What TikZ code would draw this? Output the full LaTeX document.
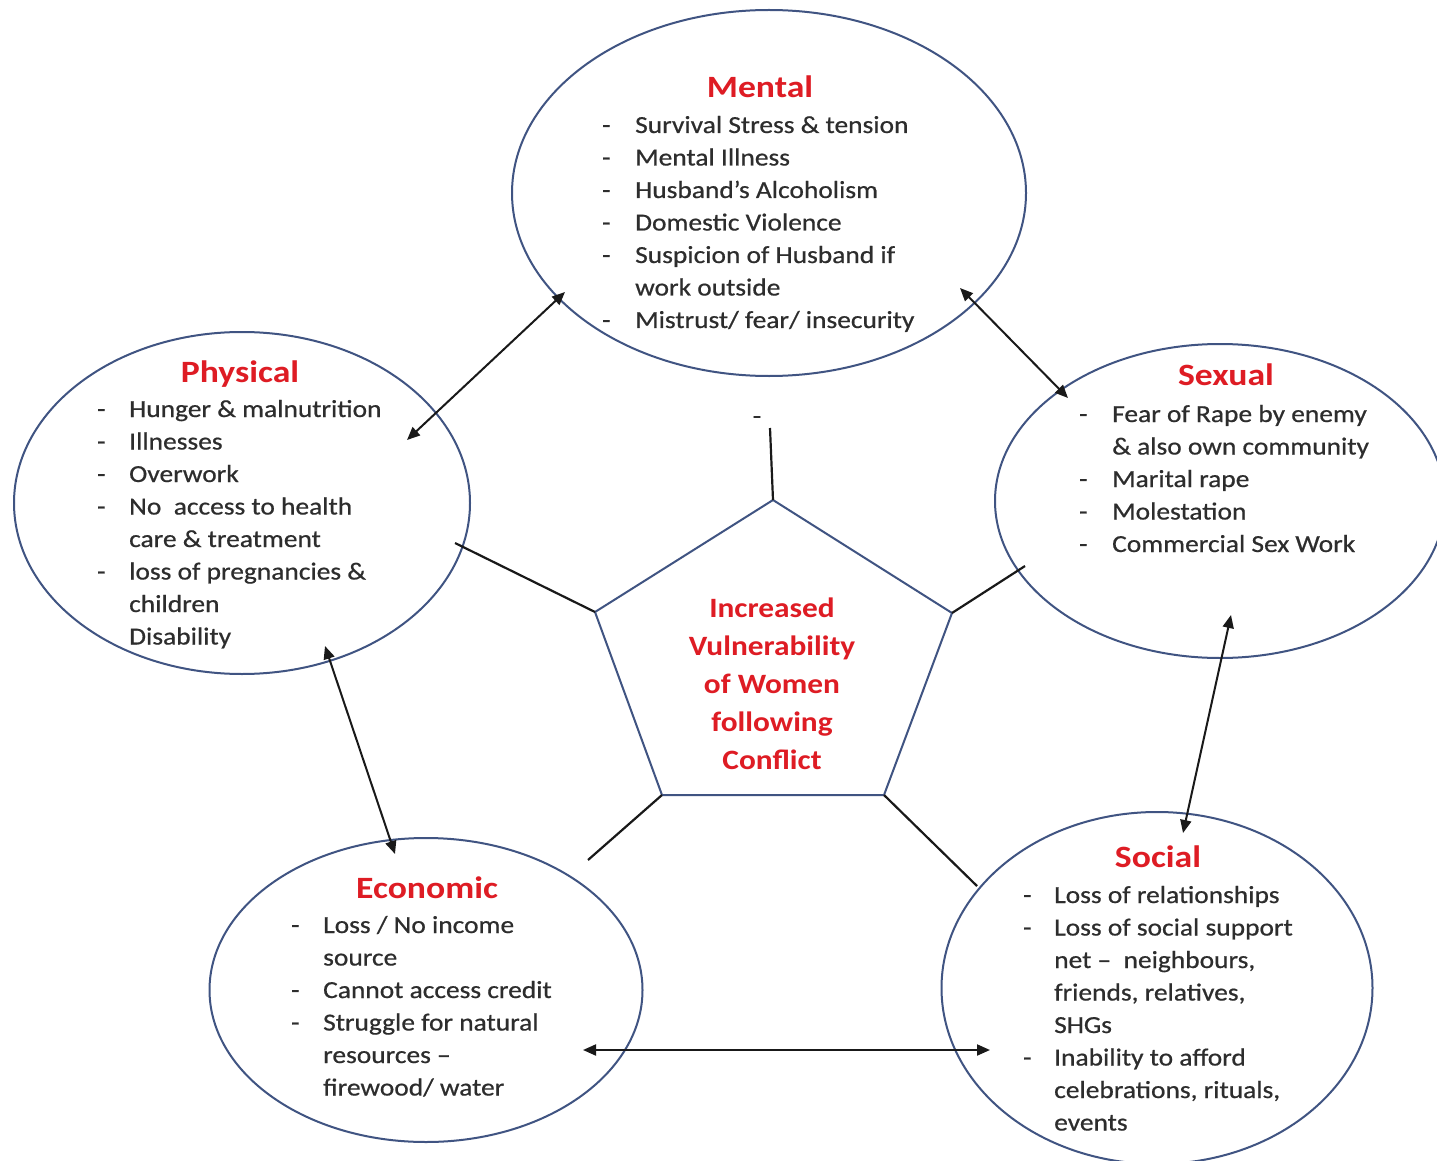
\documentclass[tikz,border=0pt]{standalone}
\usepackage{fontspec}
\setmainfont{Carlito}
\newfontfamily\bodyfont[FakeStretch=1.12,FakeBold=0.6]{Carlito}
\newfontfamily\headfont[FakeStretch=1.15]{Carlito}
\newfontfamily\corefont[FakeStretch=1.12]{Carlito}
\usepackage{array}
\usetikzlibrary{arrows.meta,shapes.geometric}
\definecolor{ringc}{RGB}{64,84,130}
\definecolor{headred}{RGB}{222,28,36}
\definecolor{bodytxt}{RGB}{45,45,45}
\tikzset{
  ring/.style={draw=ringc, line width=2pt, ellipse, inner sep=0pt},
  head/.style={font=\headfont\fontsize{31}{36}\selectfont\bfseries, text=headred, anchor=base, inner sep=0pt},
  body/.style={font=\bodyfont\fontsize{24.5}{32.5}\selectfont, text=bodytxt, anchor=base west, inner sep=0pt},
  center text/.style={font=\corefont\fontsize{28}{38}\selectfont\bfseries, text=headred, anchor=base, inner sep=0pt},
  link/.style={line width=2.2pt, draw=black!90},
  twoway/.style={line width=2pt, draw=black!90, {Triangle[length=13pt,width=11pt]}-{Triangle[length=13pt,width=11pt]}},
}
\begin{document}
\begin{tikzpicture}[x=1pt,y=-1pt]
\useasboundingbox (0,0) rectangle (1437,1161);
\fill[white] (0,0) rectangle (1437,1161);

% ellipses
\node[ring, minimum width=514pt, minimum height=366pt] (mental) at (769,193) {};
\node[ring, minimum width=456pt, minimum height=342pt] (physical) at (242,503) {};
\node[ring, minimum width=450pt, minimum height=314pt] (sexual) at (1220,501) {};
\node[ring, minimum width=433pt, minimum height=304pt] (economic) at (426,990) {};
\node[ring, minimum width=431pt, minimum height=352pt] (social) at (1157,988) {};

% pentagon
\coordinate (pT) at (773,500);
\coordinate (pUL) at (595,612);
\coordinate (pUR) at (952,613);
\coordinate (pBL) at (662,795);
\coordinate (pBR) at (884,795);
\draw[draw=ringc, line width=2pt, line join=round] (pT) -- (pUR) -- (pBR) -- (pBL) -- (pUL) -- cycle;

% center text
\node[center text] (core) at (772,617) {\begin{tabular}[t]{@{}c@{}}Increased\\Vulnerability\\of Women\\following\\Conflict\end{tabular}};

% headings
\node[head] (hMental) at (760,98) {Mental};
\node[head] (hPhysical) at (240,382) {Physical};
\node[head] (hSexual) at (1226,385) {Sexual};
\node[head] (hEconomic) at (427,898) {Economic};
\node[head] (hSocial) at (1158,867) {Social};

% item lists
\node[body] (tMental) at (602,133) {\begin{tabular}[t]{@{}p{33pt}@{}l@{}}
-&Survival Stress \& tension\\
-&Mental Illness\\
-&Husband’s Alcoholism\\
-&Domestic Violence\\
-&Suspicion of Husband if\\
 &work outside\\
-&Mistrust/ fear/ insecurity
\end{tabular}};

\node[body] (tPhysical) at (97,417) {\begin{tabular}[t]{@{}p{32pt}@{}l@{}}
-&Hunger \& malnutrition\\
-&Illnesses\\
-&Overwork\\
-&No\ \ access to health\\
 &care \& treatment\\
-&loss of pregnancies \&\\
 &children\\
 &Disability
\end{tabular}};

\node[body] (tSexual) at (1079,422) {\begin{tabular}[t]{@{}p{33pt}@{}l@{}}
-&Fear of Rape by enemy\\
 &\& also own community\\
-&Marital rape\\
-&Molestation\\
-&Commercial Sex Work
\end{tabular}};

\node[body] (tEconomic) at (291,933) {\begin{tabular}[t]{@{}p{32pt}@{}l@{}}
-&Loss / No income\\
 &source\\
-&Cannot access credit\\
-&Struggle for natural\\
 &resources –\\
 &firewood/ water
\end{tabular}};

\node[body] (tSocial) at (1023,903) {\begin{tabular}[t]{@{}p{31pt}@{}l@{}}
-&Loss of relationships\\
-&Loss of social support\\
 &net –\ \ neighbours,\\
 &friends, relatives,\\
 &SHGs\\
-&Inability to afford\\
 &celebrations, rituals,\\
 &events
\end{tabular}};

% stray dash
\node[body, anchor=center] (stray) at (757,420) {-};

% links from pentagon
\coordinate (eT) at (770,428);
\coordinate (eUL) at (455,543);
\coordinate (eUR) at (1025,566);
\coordinate (eBL) at (588,860);
\coordinate (eBR) at (977,886);
\draw[link] (pT) -- (eT);
\draw[link] (pUL) -- (eUL);
\draw[link] (pUR) -- (eUR);
\draw[link] (pBL) -- (eBL);
\draw[link] (pBR) -- (eBR);

% two-way arrows
\coordinate (aM1) at (565,292);
\coordinate (aP1) at (407,440);
\coordinate (aM2) at (960,288);
\coordinate (aS1) at (1068,398);
\coordinate (aP2) at (325,646);
\coordinate (aE1) at (395,854);
\coordinate (aS2) at (1231,615);
\coordinate (aSo1) at (1183,833);
\coordinate (aE2) at (583,1050);
\coordinate (aSo2) at (990,1050);
\draw[twoway] (aM1) -- (aP1);
\draw[twoway] (aM2) -- (aS1);
\draw[twoway] (aP2) -- (aE1);
\draw[twoway] (aS2) -- (aSo1);
\draw[twoway] (aE2) -- (aSo2);
\end{tikzpicture}
\end{document}
